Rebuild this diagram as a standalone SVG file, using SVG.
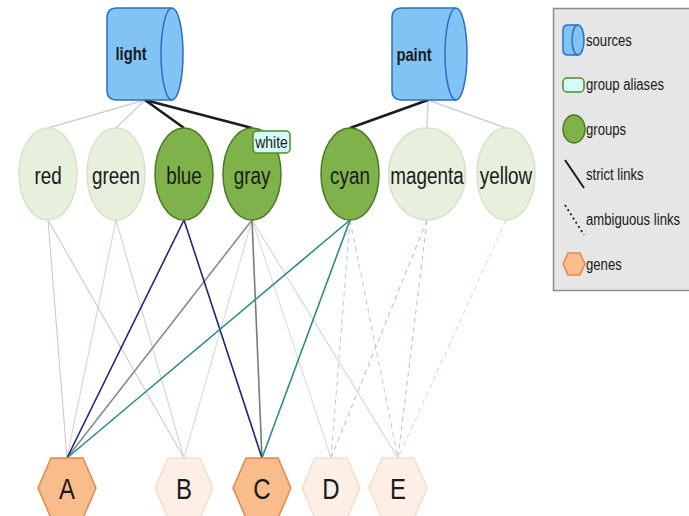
<svg xmlns="http://www.w3.org/2000/svg" width="689" height="516" viewBox="0 0 689 516">
  <style>
    text { font-family: "Liberation Sans", Arial, sans-serif; fill: #1a1a1a; }
    .src path.body { fill: #82c3f6; stroke: #2b6fc2; stroke-width: 1.5; }
    .src path.cap { fill: none; stroke: #2b6fc2; stroke-width: 1.5; }
    .src text { font-size: 18px; font-weight: bold; text-anchor: middle; }
    .grp ellipse { stroke-width: 1.5; }
    .grp.on ellipse { fill: #7fb24a; stroke: #4b7a22; }
    .grp.off ellipse { fill: #e7efdd; stroke: #d6e2c9; }
    .grp text { font-size: 23px; text-anchor: middle; }
    .alias rect { fill: #d4fbf6; stroke: #4f8a2c; stroke-width: 1.5; }
    .alias text { font-size: 17px; text-anchor: middle; }
    .gene polygon { stroke-width: 1.5; }
    .gene.on polygon { fill: #f9bc8b; stroke: #e5874a; }
    .gene.off polygon { fill: #fdefe6; stroke: #f6dccd; }
    .gene text { font-size: 30px; text-anchor: middle; }
    #links line { fill: none; }
    .strict { stroke-width: 2.6; }
    .faint { stroke-width: 1.5; }
    .thin { stroke-width: 1.1; }
    .mid { stroke-width: 1.6; }
    .amb { stroke-width: 1.1; stroke-dasharray: 5 4; }
    #legend text { font-size: 16px; }
  </style>

  <!-- connectors: sources to groups, groups to genes -->
  <g id="links">
    <!-- source links -->
    <line class="faint" x1="145" y1="100" x2="48" y2="128" stroke="#d0d0d0"/>
    <line class="faint" x1="145" y1="100" x2="116" y2="128" stroke="#d0d0d0"/>
    <line class="faint" x1="428" y1="100" x2="427" y2="128" stroke="#d0d0d0"/>
    <line class="faint" x1="428" y1="100" x2="506" y2="128" stroke="#d0d0d0"/>
    <line class="strict" x1="145" y1="100" x2="184" y2="128" stroke="#1c1c1c"/>
    <line class="strict" x1="145" y1="100" x2="252" y2="128" stroke="#1c1c1c"/>
    <line class="strict" x1="428" y1="100" x2="350" y2="128" stroke="#1c1c1c"/>

    <!-- faded gene links -->
    <line class="thin" x1="48" y1="220" x2="67" y2="458" stroke="#dcc3c3"/>
    <line class="thin" x1="48" y1="220" x2="184" y2="458" stroke="#dcc3c3"/>
    <line class="thin" x1="116" y1="220" x2="67" y2="458" stroke="#c3dfc3"/>
    <line class="thin" x1="116" y1="220" x2="184" y2="458" stroke="#c3dfc3"/>
    <line class="thin" x1="252" y1="220" x2="184" y2="458" stroke="#dcdcdc"/>
    <line class="thin" x1="252" y1="220" x2="331" y2="458" stroke="#dcdcdc"/>
    <line class="thin" x1="252" y1="220" x2="398" y2="458" stroke="#d4d4d4"/>

    <!-- ambiguous gene links -->
    <line class="amb" x1="350" y1="220" x2="331" y2="458" stroke="#b0d6dc"/>
    <line class="amb" x1="350" y1="220" x2="398" y2="458" stroke="#b0d6dc"/>
    <line class="amb" x1="427" y1="220" x2="331" y2="458" stroke="#dcb0e6"/>
    <line class="amb" x1="427" y1="220" x2="398" y2="458" stroke="#dcb0e6"/>
    <line class="amb" x1="506" y1="220" x2="398" y2="458" stroke="#e8dcb4"/>

    <!-- strict gene links -->
    <line class="mid" x1="252" y1="220" x2="67" y2="458" stroke="#8a8a8a"/>
    <line class="mid" x1="252" y1="220" x2="262" y2="458" stroke="#7a7a7a"/>
    <line class="mid" x1="184" y1="220" x2="67" y2="458" stroke="#23237e"/>
    <line class="mid" x1="184" y1="220" x2="262" y2="458" stroke="#23237e"/>
    <line class="mid" x1="350" y1="220" x2="67" y2="458" stroke="#2a8c8a" stroke-width="2"/>
    <line class="mid" x1="350" y1="220" x2="262" y2="458" stroke="#2a8c8a" stroke-width="2"/>
  </g>

  <!-- sources -->
  <g id="src-light" class="src">
    <path class="body" d="M117,8 L172,8 A11,46 0 0 1 172,100 L117,100 Q107,100 107,90 L107,18 Q107,8 117,8 Z"/>
    <path class="cap" d="M172,8 A11,46 0 0 0 172,100"/>
    <text transform="translate(131,60) scale(0.82,1)">light</text>
  </g>
  <g id="src-paint" class="src">
    <path class="body" d="M402,8 L456,8 A11,46 0 0 1 456,100 L402,100 Q392,100 392,90 L392,18 Q392,8 402,8 Z"/>
    <path class="cap" d="M456,8 A11,46 0 0 0 456,100"/>
    <text transform="translate(414,61) scale(0.82,1)">paint</text>
  </g>

  <!-- groups (labels are drawn condensed) -->
  <g id="grp-red" class="grp off"><ellipse cx="48" cy="174" rx="29" ry="46"/><text transform="translate(48,184) scale(0.82,1)">red</text></g>
  <g id="grp-green" class="grp off"><ellipse cx="116" cy="174" rx="29" ry="46"/><text transform="translate(116,184) scale(0.82,1)">green</text></g>
  <g id="grp-blue" class="grp on"><ellipse cx="184" cy="174" rx="29" ry="46"/><text transform="translate(184,184) scale(0.82,1)">blue</text></g>
  <g id="grp-gray" class="grp on"><ellipse cx="252" cy="174" rx="29" ry="46"/><text transform="translate(252,184) scale(0.82,1)">gray</text></g>
  <g id="grp-cyan" class="grp on"><ellipse cx="350" cy="174" rx="29" ry="46"/><text transform="translate(350,184) scale(0.82,1)">cyan</text></g>
  <g id="grp-magenta" class="grp off"><ellipse cx="427" cy="174" rx="38.5" ry="46"/><text transform="translate(427,184) scale(0.82,1)">magenta</text></g>
  <g id="grp-yellow" class="grp off"><ellipse cx="506" cy="174" rx="29" ry="46"/><text transform="translate(506,184) scale(0.82,1)">yellow</text></g>

  <!-- group alias -->
  <g id="alias-white" class="alias">
    <rect x="253" y="131" width="37" height="22" rx="4"/>
    <text transform="translate(271.5,148) scale(0.82,1)">white</text>
  </g>

  <!-- genes -->
  <g id="gene-A" class="gene on"><polygon points="38,488 51,458 83,458 96,488 83,518 51,518"/><text transform="translate(67,499) scale(0.8,1)">A</text></g>
  <g id="gene-B" class="gene off"><polygon points="155,488 168,458 200,458 213,488 200,518 168,518"/><text transform="translate(184,499) scale(0.8,1)">B</text></g>
  <g id="gene-C" class="gene on"><polygon points="233,488 246,458 278,458 291,488 278,518 246,518"/><text transform="translate(262,499) scale(0.8,1)">C</text></g>
  <g id="gene-D" class="gene off"><polygon points="302,488 315,458 347,458 360,488 347,518 315,518"/><text transform="translate(331,499) scale(0.8,1)">D</text></g>
  <g id="gene-E" class="gene off"><polygon points="369,488 382,458 414,458 427,488 414,518 382,518"/><text transform="translate(398,499) scale(0.8,1)">E</text></g>

  <!-- legend -->
  <g id="legend">
    <rect x="553.5" y="8.5" width="140" height="282" fill="#e6e6e6" stroke="#8c8c8c" stroke-width="1.5"/>
    <path d="M568,25 L578,25 A6,15 0 0 1 578,55 L568,55 Q563,55 563,50 L563,30 Q563,25 568,25 Z" fill="#82c3f6" stroke="#2b6fc2" stroke-width="1.5"/>
    <path d="M578,25 A6,15 0 0 0 578,55" fill="none" stroke="#2b6fc2" stroke-width="1.5"/>
    <text transform="translate(586,46) scale(0.82,1)">sources</text>
    <rect x="563" y="78" width="21" height="14" rx="4" fill="#d4fbf6" stroke="#4f8a2c" stroke-width="1.5"/>
    <text transform="translate(586,90) scale(0.82,1)">group aliases</text>
    <ellipse cx="574" cy="129" rx="11" ry="14" fill="#7fb24a" stroke="#4b7a22" stroke-width="1.5"/>
    <text transform="translate(586,135) scale(0.82,1)">groups</text>
    <line x1="565" y1="160" x2="584" y2="188" stroke="#1c1c1c" stroke-width="2"/>
    <text transform="translate(586,180) scale(0.82,1)">strict links</text>
    <line x1="565" y1="205" x2="584" y2="235" stroke="#1c1c1c" stroke-width="1.8" stroke-dasharray="2 3"/>
    <text transform="translate(586,225) scale(0.82,1)">ambiguous links</text>
    <polygon points="563,264 568,253 580,253 585,264 580,275 568,275" fill="#f9bc8b" stroke="#e5874a" stroke-width="1.5"/>
    <text transform="translate(586,270) scale(0.82,1)">genes</text>
  </g>
</svg>
